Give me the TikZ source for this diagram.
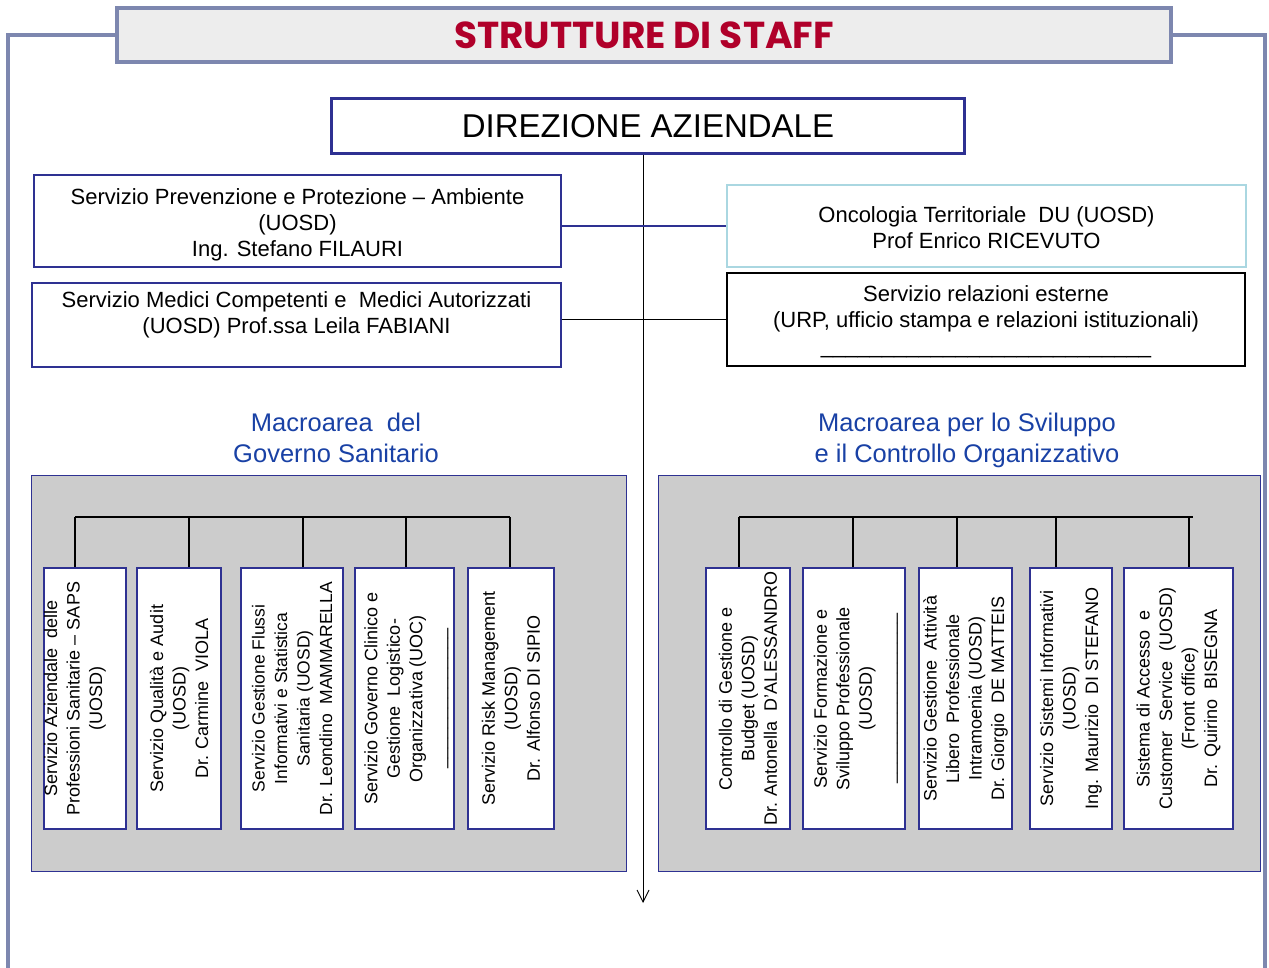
\documentclass[tikz,border=0pt]{standalone}
\usepackage{fontspec}
\setmainfont{Liberation Sans}
\newfontfamily\titlefont{Poppins}
\usetikzlibrary{arrows.meta,calc}
\definecolor{navy}{RGB}{46,49,146}
\definecolor{framec}{RGB}{125,135,175}
\definecolor{titlered}{RGB}{176,0,42}
\definecolor{macroblue}{RGB}{25,65,165}
\definecolor{panelgrey}{RGB}{204,204,204}
\definecolor{oncob}{RGB}{170,215,225}
\definecolor{bannerfill}{RGB}{237,237,237}
\begin{document}
\begin{tikzpicture}[x=1pt,y=-1pt,
  frame/.style={draw=framec,line width=3.5pt},
  topbox/.style={draw=navy,line width=1.3pt,inner sep=0pt,align=center,font=\fontsize{22}{26}\selectfont},
  macro/.style={text=macroblue,align=center,font=\fontsize{25.5}{31}\selectfont},
  panel/.style={draw=navy,line width=1pt,fill=panelgrey,inner sep=0pt,minimum height=396pt},
  sbox/.style={draw=navy,line width=1.2pt,fill=white,inner sep=0pt,minimum height=261pt},
  rot/.style={rotate=90,align=center,inner sep=0pt,font=\fontsize{18}{22.5}\selectfont},
  tree/.style={draw=black,line width=2pt},
  link/.style={line width=1.3pt}]
\useasboundingbox (0,0) rectangle (1269,968);

% banner and frame
\node[frame,line width=4pt,fill=bannerfill,minimum width=1054pt,minimum height=54pt,inner sep=0pt,
      font=\titlefont\bfseries\fontsize{37.5}{40}\selectfont,text=titlered] (title) at (644,35) {STRUTTURE DI STAFF};
\coordinate (fl) at (8,968);
\coordinate (fr) at (1265,968);
\draw[frame] (title.west) -| (fl);
\draw[frame] (title.east) -| (fr);

% direzione
\node[draw=navy,line width=3pt,minimum width=633pt,minimum height=55pt,inner sep=0pt,
      font=\fontsize{33}{38}\selectfont] (dir) at (648,126) {DIREZIONE AZIENDALE};
\coordinate (arrowend) at (643,903);

% staff boxes
\node[topbox,minimum width=527pt,minimum height=92pt] (spp) at (297.5,221)
  {\rule{0pt}{24pt}Servizio Prevenzione e Protezione – Ambiente\\(UOSD)\\Ing. Stefano FILAURI};
\node[topbox,minimum width=529pt,minimum height=82pt] (med) at (296.5,325)
  {\rule{0pt}{24pt}Servizio Medici Competenti e\ \ Medici Autorizzati\\(UOSD) Prof.ssa Leila FABIANI\\\strut};
\node[topbox,draw=oncob,minimum width=519pt,minimum height=82pt] (onc) at (986.5,226)
  {\rule{0pt}{20pt}Oncologia Territoriale\ \ DU (UOSD)\\Prof Enrico RICEVUTO};
\node[topbox,draw=black,minimum width=518pt,minimum height=93pt] (rel) at (986,319.5)
  {\rule{0pt}{20pt}Servizio relazioni esterne\\(URP, ufficio stampa e relazioni istituzionali)\\\_\_\_\_\_\_\_\_\_\_\_\_\_\_\_\_\_\_\_\_\_\_\_\_\_\_\_};

% main vertical line
\draw[line width=0.9pt,-{Straight Barb[length=12pt,width=12pt,line width=0.9pt]}] (dir.south -| arrowend) -- (arrowend);
\draw[link,draw=navy,line width=2pt] (spp.east |- onc.west) -- (onc.west);
\draw[link,draw=black] (med.east |- rel.west) -- (rel.west);

% macroarea titles
\node[macro] (mtl) at (336,437.5) {Macroarea\ \ del\\Governo Sanitario};
\node[macro] (mtr) at (967,440) {Macroarea per lo Sviluppo\\e il Controllo Organizzativo};

% panels
\node[panel,minimum width=595pt] (pl) at (328.5,673) {};
\node[panel,minimum width=602pt] (pr) at (959,673) {};

% left boxes
\node[sbox,minimum width=82pt] (L1) at (85,698.5) {};
\node[sbox,minimum width=84pt] (L2) at (179,698.5) {};
\node[sbox,minimum width=102pt] (L3) at (292,698.5) {};
\node[sbox,minimum width=99pt] (L4) at (404.5,698.5) {};
\node[sbox,minimum width=86pt] (L5) at (511,698.5) {};
\node[rot] (t1) at (75,698.5) {Servizio Aziendale\ \ delle\\Professioni Sanitarie – SAPS\\(UOSD)};
\node[rot] (t2) at (L2) {Servizio Qualità e Audit\\(UOSD)\\Dr. Carmine\ \ VIOLA};
\node[rot,font=\fontsize{17.5}{22.5}\selectfont] (t3) at (L3) {Servizio Gestione Flussi\\Informativi e Statistica\\Sanitaria (UOSD)\\Dr. Leondino\ \ MAMMARELLA};
\node[rot] (t4) at ([xshift=2pt]L4.center) {Servizio Governo Clinico e\\Gestione\ \ Logistico-\\Organizzativa (UOC)\\\_\_\_\_\_\_\_\_\_\_\_\_\_\_};
\node[rot] (t5) at (L5) {Servizio Risk Management\\(UOSD)\\Dr. Alfonso DI SIPIO};

\coordinate (lb1) at (75,517);
\coordinate (lb2) at (189,517);
\coordinate (lb3) at (303,517);
\coordinate (lb4) at (406,517);
\coordinate (lb5) at (510,517);
\draw[tree] (lb1) -- (lb5);
\draw[tree] (lb1) -- (lb1 |- L1.north);
\draw[tree] (lb2) -- (lb2 |- L2.north);
\draw[tree] (lb3) -- (lb3 |- L3.north);
\draw[tree] (lb4) -- (lb4 |- L4.north);
\draw[tree] (lb5) -- (lb5 |- L5.north);

% right boxes
\node[sbox,minimum width=84pt] (R1) at (748,698.5) {};
\node[sbox,minimum width=102pt] (R2) at (854,698.5) {};
\node[sbox,minimum width=93pt] (R3) at (965.5,698.5) {};
\node[sbox,minimum width=82pt] (R4) at (1071,698.5) {};
\node[sbox,minimum width=109pt] (R5) at (1178.5,698.5) {};
\node[rot] (u1) at (R1) {Controllo di Gestione e\\Budget (UOSD)\\Dr. Antonella\ \ D'ALESSANDRO};
\node[rot] (u2) at ([xshift=2pt]R2.center) {Servizio Formazione e\\Sviluppo Professionale\\(UOSD)\\\_\_\_\_\_\_\_\_\_\_\_\_\_\_\_\_\_};
\node[rot] (u3) at (R3) {Servizio Gestione\ \ Attività\\Libero\ \ Professionale\\Intramoenia (UOSD)\\Dr. Giorgio\ \ DE MATTEIS};
\node[rot] (u4) at (R4) {Servizio Sistemi Informativi\\(UOSD)\\Ing. Maurizio\ \ DI STEFANO};
\node[rot] (u5) at (R5) {Sistema di Accesso\ \ e\\Customer\ \ Service\ \ (UOSD)\\(Front office)\\Dr. Quirino\ \ BISEGNA};

\coordinate (rb1) at (739,517);
\coordinate (rb2) at (853,517);
\coordinate (rb3) at (957,517);
\coordinate (rb4) at (1056,517);
\coordinate (rb5) at (1189,517);
\coordinate (rbend) at (1193,517);
\draw[tree] (rb1) -- (rbend);
\draw[tree] (rb1) -- (rb1 |- R1.north);
\draw[tree] (rb2) -- (rb2 |- R2.north);
\draw[tree] (rb3) -- (rb3 |- R3.north);
\draw[tree] (rb4) -- (rb4 |- R4.north);
\draw[tree] (rb5) -- (rb5 |- R5.north);
\end{tikzpicture}
\end{document}
